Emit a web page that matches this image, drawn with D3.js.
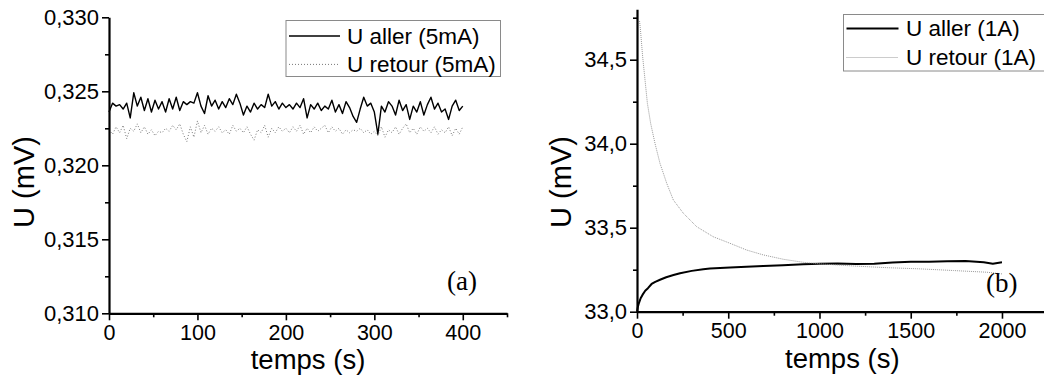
<!DOCTYPE html>
<html><head><meta charset="utf-8">
<script src="https://cdn.jsdelivr.net/npm/d3@7"></script>
<style>
body{margin:0;background:#fff}
svg{display:block}
text{font-family:"Liberation Sans",Arial,sans-serif;fill:#000}
</style>
</head><body>
<svg id="c" width="1044" height="381"></svg>
<script>
// ---------- Panel (a) data ----------
const timeA = d3.range(0, 401, 4); // sampling grid, s
const allerA = [
0.3236,0.3242,0.3240,0.3241,0.3238,0.3242,0.3232,0.3249,0.3240,0.3246,
0.3237,0.3245,0.3236,0.3244,0.3238,0.3243,0.3236,0.3245,0.3238,0.3246,
0.3237,0.3243,0.3241,0.3243,0.3242,0.3249,0.3240,0.3235,0.3247,0.3240,
0.3244,0.3238,0.3243,0.3239,0.3245,0.3241,0.3248,0.3242,0.3234,0.3240,
0.3236,0.3242,0.3238,0.3241,0.3239,0.3248,0.3240,0.3243,0.3238,0.3242,
0.3239,0.3241,0.3238,0.3242,0.3239,0.3245,0.3232,0.3241,0.3238,0.3242,
0.3237,0.3240,0.3238,0.3244,0.3236,0.3241,0.3235,0.3243,0.3239,0.3233,
0.3229,0.3238,0.3246,0.3240,0.3242,0.3236,0.3221,0.3240,0.3236,0.3243,
0.3240,0.3234,0.3244,0.3237,0.3241,0.3231,0.3240,0.3236,0.3243,0.3234,
0.3241,0.3246,0.3238,0.3242,0.3236,0.3238,0.3231,0.3240,0.3244,0.3237,
0.3240];
const retourA = [
0.3224,0.3221,0.3226,0.3222,0.3227,0.3218,0.3225,0.3223,0.3228,0.3222,
0.3226,0.3221,0.3224,0.3220,0.3223,0.3222,0.3225,0.3223,0.3227,0.3224,
0.3228,0.3221,0.3216,0.3226,0.3219,0.3230,0.3222,0.3227,0.3221,0.3225,
0.3223,0.3226,0.3222,0.3224,0.3221,0.3227,0.3223,0.3225,0.3222,0.3226,
0.3221,0.3217,0.3224,0.3222,0.3227,0.3219,0.3225,0.3222,0.3226,0.3223,
0.3225,0.3222,0.3226,0.3223,0.3227,0.3221,0.3225,0.3222,0.3226,0.3223,
0.3225,0.3227,0.3222,0.3226,0.3223,0.3225,0.3221,0.3224,0.3222,0.3224,
0.3223,0.3225,0.3222,0.3224,0.3221,0.3223,0.3220,0.3226,0.3219,0.3224,
0.3222,0.3226,0.3221,0.3225,0.3228,0.3222,0.3225,0.3221,0.3226,0.3223,
0.3225,0.3222,0.3226,0.3221,0.3224,0.3222,0.3226,0.3220,0.3225,0.3221,
0.3226];
const xTicksA = [0,100,200,300,400];
const xMinorA = [50,150,250,350,450];
const yTicksA = [0.310,0.315,0.320,0.325,0.330];
const yMinorA = [0.3125,0.3175,0.3225,0.3275];
const legendA = ["U aller (5mA)","U retour (5mA)"];

// ---------- Panel (b) data ----------
const timeAllerB = [0,5,10,20,30,45,60,80,100,126,160,200,236,300,363,400,510,600,692,800,911,1000,1100,1200,1300,1400,1500,1600,1700,1800,1900,1950,2000];
const allerB = [33.0,33.03,33.05,33.08,33.10,33.125,33.14,33.165,33.178,33.19,33.205,33.218,33.229,33.243,33.253,33.257,33.263,33.268,33.272,33.277,33.282,33.285,33.287,33.284,33.286,33.293,33.298,33.297,33.300,33.302,33.294,33.286,33.294];
const timeRetourB = [14,18,31,44,57,75,99,126,163,199,254,327,418,510,601,692,802,911,1003,1186,1370,1551,1734,1917,2000];
const retourB = [34.73,34.69,34.518,34.379,34.24,34.12,34.0,33.883,33.764,33.665,33.586,33.506,33.446,33.407,33.367,33.338,33.312,33.294,33.285,33.272,33.262,33.255,33.245,33.235,33.225];
const xTicksB = [0,500,1000,1500,2000];
const xMinorB = [250,750,1250,1750,2250];
const yTicksB = [33.0,33.5,34.0,34.5];
const yMinorB = [33.25,33.75,34.25,34.75];
const legendB = ["U aller (1A)","U retour (1A)"];

const fr = d3.formatLocale({decimal:",",thousands:"",grouping:[3],currency:["",""]});

const svg = d3.select("#c");

function panel(o){
  const g = svg.append("g");
  const x = d3.scaleLinear().domain(o.xDomain).range(o.xRange);
  const y = d3.scaleLinear().domain(o.yDomain).range(o.yRange);

  const line = d3.line().x(d=>x(d[0])).y(d=>y(d[1]));
  o.series.forEach(s=>{
    g.append("path").datum(d3.zip(s.t,s.v))
      .attr("fill","none").attr("stroke",s.color)
      .attr("stroke-width",s.width).attr("stroke-dasharray",s.dash||null)
      .attr("stroke-linejoin","round")
      .attr("d",line);
  });

  // minor ticks
  g.append("g").attr("transform",`translate(0,${o.yRange[0]})`)
    .call(d3.axisBottom(x).tickValues(o.xMinor.filter(v=>x(v)<=1044)).tickSize(4).tickSizeOuter(0).tickFormat(""))
    .call(a=>a.select(".domain").remove());
  g.append("g").attr("transform",`translate(${o.xRange[0]},0)`)
    .call(d3.axisLeft(y).tickValues(o.yMinor).tickSize(4).tickSizeOuter(0).tickFormat(""))
    .call(a=>a.select(".domain").remove());

  // major axes
  const xa = g.append("g").attr("transform",`translate(0,${o.yRange[0]})`)
    .call(d3.axisBottom(x).tickValues(o.xTicks).tickSize(7).tickPadding(4).tickSizeOuter(0).tickFormat(d=>String(d)));
  const ya = g.append("g").attr("transform",`translate(${o.xRange[0]},0)`)
    .call(d3.axisLeft(y).tickValues(o.yTicks).tickSize(7).tickPadding(3).tickSizeOuter(0).tickFormat(fr.format(o.yFmt)));
  xa.selectAll(".tick text").attr("font-size","21.5px");
  ya.selectAll(".tick text").attr("font-size","22px");
  [xa,ya].forEach(a=>{
    a.select(".domain").attr("stroke","#000").attr("stroke-width",2.2);
    a.selectAll(".tick text").attr("font-family","Liberation Sans, Arial, sans-serif").attr("fill","#000");
  });
  g.selectAll(".tick line").attr("stroke","#000").attr("stroke-width",1.6);

  // axis titles
  g.append("text").attr("x",(o.xRange[0]+o.xRange[1])/2).attr("y",o.xTitleY)
    .attr("text-anchor","middle").attr("font-size","27.5px").text("temps (s)");
  g.append("text").attr("transform",`translate(${o.yTitleX},${o.yTitleCY}) rotate(-90)`)
    .attr("text-anchor","middle").attr("font-size","29px").text("U (mV)");

  // panel label
  g.append("text").attr("x",o.label.x).attr("y",o.label.y)
    .style("font-family","'Liberation Serif','Times New Roman',serif")
    .attr("font-size","27px").text(o.label.t);

  // legend
  const L = o.legend;
  g.append("rect").attr("x",L.x).attr("y",L.y).attr("width",L.w).attr("height",L.h)
    .attr("fill","#fff").attr("stroke","#8a8a8a").attr("stroke-width",1);
  o.series.forEach((s,i)=>{
    const yy = L.y + L.row0 + i*L.dy;
    g.append("line").attr("x1",L.x+3).attr("x2",L.x+L.sw).attr("y1",yy).attr("y2",yy)
      .attr("stroke",s.color).attr("stroke-width",s.width).attr("stroke-dasharray",s.dash||null);
    g.append("text").attr("x",L.x+L.tx).attr("y",yy+7.5).attr("font-size","22.5px").text(L.labels[i]);
  });
}

panel({
  xDomain:[0,450], xRange:[109,507],
  yDomain:[0.310,0.330], yRange:[313.3,17.3],
  xTicks:xTicksA, xMinor:xMinorA, yTicks:yTicksA, yMinor:yMinorA, yFmt:".3f",
  series:[
    {t:timeA,v:allerA,color:"#000",width:1.4},
    {t:timeA,v:retourA,color:"#777",width:1,dash:"1,2"}
  ],
  xTitleY:368.5, yTitleX:34, yTitleCY:182,
  label:{x:447,y:290,t:"(a)"},
  legend:{x:286,y:20.5,w:214.5,h:56,row0:15.5,dy:28.4,sw:54,tx:61,labels:legendA}
});

panel({
  xDomain:[0,2250], xRange:[637,1047.6],
  yDomain:[33.0,34.8], yRange:[311.7,9.3],
  xTicks:xTicksB, xMinor:xMinorB, yTicks:yTicksB, yMinor:yMinorB, yFmt:".1f",
  series:[
    {t:timeAllerB,v:allerB,color:"#000",width:2},
    {t:timeRetourB,v:retourB,color:"#999",width:1,dash:"1,1"}
  ],
  xTitleY:367.5, yTitleX:571, yTitleCY:182,
  label:{x:986,y:292,t:"(b)"},
  legend:{x:843.5,y:14.5,w:210,h:56.5,row0:14,dy:29,sw:55,tx:62.5,labels:legendB}
});
</script>
</body></html>
